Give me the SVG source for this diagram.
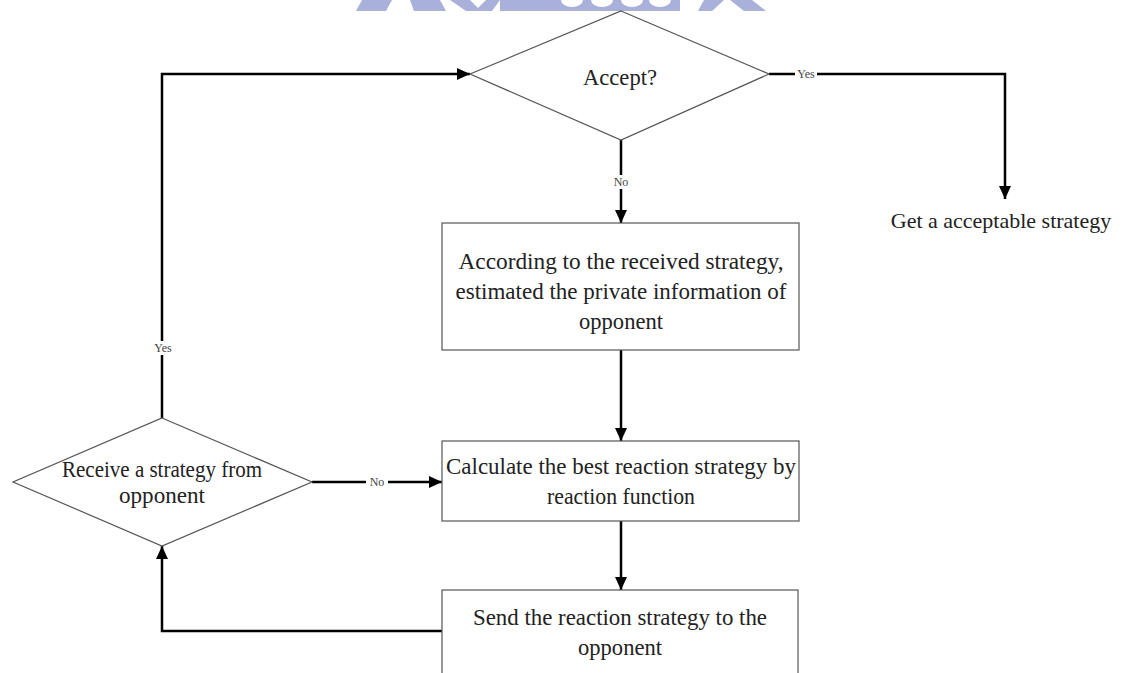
<svg xmlns="http://www.w3.org/2000/svg" width="1124" height="673" viewBox="0 0 1124 673">
  <style>
    .shape { fill: #ffffff; stroke: #555555; stroke-width: 1.2; }
    .wire { fill: none; stroke: #000000; stroke-width: 2.5; }
    .txt { font-family: "Liberation Serif", "Times New Roman", serif; font-size: 24px; fill: #222222; text-anchor: middle; }
    .lbl { font-family: "Liberation Serif", "Times New Roman", serif; font-size: 12px; fill: #444444; text-anchor: middle; }
    .mark { fill: #a9b0d9; }
  </style>
  <defs>
    <marker id="arrow" markerUnits="userSpaceOnUse" markerWidth="14" markerHeight="12" refX="13" refY="6" orient="auto">
      <path d="M0,0 L13,6 L0,12 z" fill="#000000"/>
    </marker>
  </defs>

  <rect width="1124" height="673" fill="#ffffff"/>

  <!-- emblem band along the top edge -->
  <g id="emblem">
    <polygon class="mark" points="362,0 392,0 386,11 356,11"/>
    <polygon class="mark" points="410,0 440,0 446,11 414,11"/>
    <polygon class="mark" points="450,0 470,0 478,8 486,0 500,0 492,11 466,11"/>
    <rect class="mark" x="500" y="0" width="180" height="11"/>
    <ellipse cx="572" cy="0" rx="11" ry="7" fill="#ffffff"/>
    <ellipse cx="602" cy="0" rx="11" ry="7" fill="#ffffff"/>
    <ellipse cx="632" cy="0" rx="11" ry="7" fill="#ffffff"/>
    <ellipse cx="660" cy="0" rx="11" ry="7" fill="#ffffff"/>
    <polygon class="mark" points="704,0 724,0 712,11 698,11"/>
    <polygon class="mark" points="730,0 752,0 766,11 744,11"/>
  </g>

  <!-- connectors -->
  <g id="connectors">
    <path class="wire" d="M621,140 V223" marker-end="url(#arrow)"/>
    <path class="wire" d="M621,350 V441" marker-end="url(#arrow)"/>
    <path class="wire" d="M621,521 V590" marker-end="url(#arrow)"/>
    <path class="wire" d="M769,74 H1005 V199" marker-end="url(#arrow)"/>
    <path class="wire" d="M312,482 H442" marker-end="url(#arrow)"/>
    <path class="wire" d="M442,631 H162 V546" marker-end="url(#arrow)"/>
    <path class="wire" d="M162,418 V74 H470" marker-end="url(#arrow)"/>

    <rect x="610" y="175" width="22" height="14" fill="#ffffff"/>
    <text class="lbl" x="621" y="186">No</text>
    <rect x="795" y="67" width="22" height="14" fill="#ffffff"/>
    <text class="lbl" x="806" y="78">Yes</text>
    <rect x="366" y="475" width="22" height="14" fill="#ffffff"/>
    <text class="lbl" x="377" y="486">No</text>
    <rect x="152" y="341" width="22" height="14" fill="#ffffff"/>
    <text class="lbl" x="163" y="352">Yes</text>
  </g>

  <g id="accept">
    <polygon class="shape" points="621,11 769,74 621,140 470,74"/>
    <text class="txt" x="620" y="85" textLength="74" lengthAdjust="spacingAndGlyphs">Accept?</text>
  </g>

  <g id="result">
    <text class="txt" x="1001" y="228" style="font-size:22px">Get a acceptable strategy</text>
  </g>

  <g id="estimate">
    <rect class="shape" x="442" y="223" width="357" height="127"/>
    <text class="txt" x="621" y="269" textLength="325" lengthAdjust="spacingAndGlyphs">According to the received strategy,</text>
    <text class="txt" x="621" y="299" textLength="331" lengthAdjust="spacingAndGlyphs">estimated the private information of</text>
    <text class="txt" x="621" y="329" textLength="84" lengthAdjust="spacingAndGlyphs">opponent</text>
  </g>

  <g id="calculate">
    <rect class="shape" x="442" y="441" width="357" height="80"/>
    <text class="txt" x="621" y="474" textLength="350" lengthAdjust="spacingAndGlyphs">Calculate the best reaction strategy by</text>
    <text class="txt" x="621" y="504" textLength="148" lengthAdjust="spacingAndGlyphs">reaction function</text>
  </g>

  <g id="send">
    <rect class="shape" x="442" y="590" width="356" height="100"/>
    <text class="txt" x="620" y="625" textLength="294" lengthAdjust="spacingAndGlyphs">Send the reaction strategy to the</text>
    <text class="txt" x="620" y="655" textLength="84" lengthAdjust="spacingAndGlyphs">opponent</text>
  </g>

  <g id="receive">
    <polygon class="shape" points="162,418 312,482 162,546 13,482"/>
    <text class="txt" x="162" y="477" textLength="200" lengthAdjust="spacingAndGlyphs">Receive a strategy from</text>
    <text class="txt" x="162" y="503" textLength="86" lengthAdjust="spacingAndGlyphs">opponent</text>
  </g>
</svg>
